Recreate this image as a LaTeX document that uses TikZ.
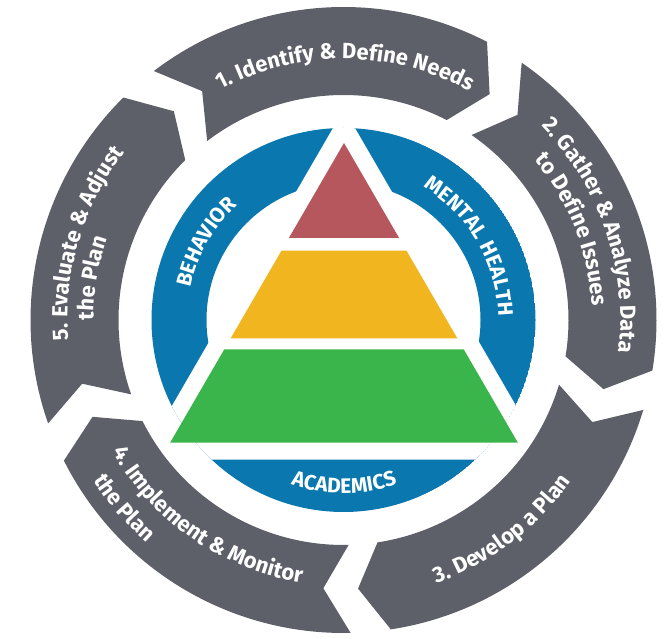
\documentclass[tikz,border=0pt]{standalone}
\usepackage{fontspec}
\setmainfont{Fira Sans}
\newfontfamily\bluefamily[LetterSpace=8]{Fira Sans}
\usetikzlibrary{decorations.text}
\definecolor{ringgray}{HTML}{5D6069}
\definecolor{ringblue}{HTML}{0A78AE}
\definecolor{pyrred}{HTML}{B5575C}
\definecolor{pyryellow}{HTML}{F0B51F}
\definecolor{pyrgreen}{HTML}{3AB54B}
\newcommand\arrowtxt{\bfseries\fontsize{22}{26}\selectfont}
\newcommand\bluetxt{\bluefamily\bfseries\fontsize{21}{25}\selectfont}
\tikzset{
  arctext/.style={decorate, decoration={text along path, text align=center, text color=white, text={#1}}},
  ringarrow/.style={fill=ringgray},
}
\newcommand\cwtext[3]{%
  \pgfmathsetmacro\myAngA{#1+80}\pgfmathsetmacro\myAngB{#1-80}%
  \path[arctext={#3}] (\myAngA:#2) arc[start angle=\myAngA, end angle=\myAngB, radius=#2];}
\newcommand\ccwtext[3]{%
  \pgfmathsetmacro\myAngA{#1-80}\pgfmathsetmacro\myAngB{#1+80}%
  \path[arctext={#3}] (\myAngA:#2) arc[start angle=\myAngA, end angle=\myAngB, radius=#2];}
\begin{document}
\begin{tikzpicture}[x=1pt,y=1pt]
\useasboundingbox (0,0) rectangle (672,639);
\begin{scope}[shift={(343.5,319)}]
  % gray cycle arrows
  \foreach \a in {127.3,55.3,-16.7,-88.7,-160.7}{
    \pgfmathsetmacro\b{\a-64.6}
    \pgfmathsetmacro\tp{\b-5.6}
    \pgfmathsetmacro\nt{\a-5.6}
    \fill[ringarrow] (\a:313) arc[start angle=\a, end angle=\b, radius=313]
      -- (\tp:269) -- (\b:225) arc[start angle=\b, end angle=\a, radius=225]
      -- (\nt:269) -- cycle;
  }
  % blue ring
  \begin{scope}
    \clip (0,0) circle[radius=192];
    \fill[ringblue, even odd rule] (0,0) circle[radius=192] (0,0) circle[radius=137];
    \fill[white] (0.5,210.9) -- (-202.8,-139.7) -- (203.8,-139.7) -- cycle;
  \end{scope}
\end{scope}
% pyramid
\fill[pyrred] (344,496) -- (399.1,401) -- (288.9,401) -- cycle;
\fill[pyryellow] (281.5,388.3) -- (406.5,388.3) -- (457.3,300.7) -- (230.7,300.7) -- cycle;
\fill[pyrgreen] (224.3,289.7) -- (463.7,289.7) -- (517.9,196.3) -- (170.1,196.3) -- cycle;
\begin{scope}[shift={(343.5,319)}]
  \cwtext{89.6}{261}{|\arrowtxt|1. Identify {\&} Define Needs}
  \cwtext{18.9}{277}{|\arrowtxt|2. Gather {\&} Analyze Data}
  \cwtext{21.6}{249}{|\arrowtxt|to Define Issues}
  \ccwtext{-52.9}{279}{|\arrowtxt|3. Develop a Plan}
  \ccwtext{235.3}{266}{|\arrowtxt|4. Implement {\&} Monitor}
  \ccwtext{220.6}{297}{|\arrowtxt|the Plan}
  \cwtext{163.4}{276}{|\arrowtxt|5. Evaluate {\&} Adjust}
  \cwtext{170.5}{250}{|\arrowtxt|the Plan}
  \cwtext{150.5}{156}{|\bluetxt|BEHAVIOR}
  \cwtext{30.2}{155}{|\bluetxt|MENTAL HEALTH}
  \ccwtext{-89.8}{173}{|\bluetxt|ACADEMICS}
\end{scope}
\end{tikzpicture}
\end{document}
